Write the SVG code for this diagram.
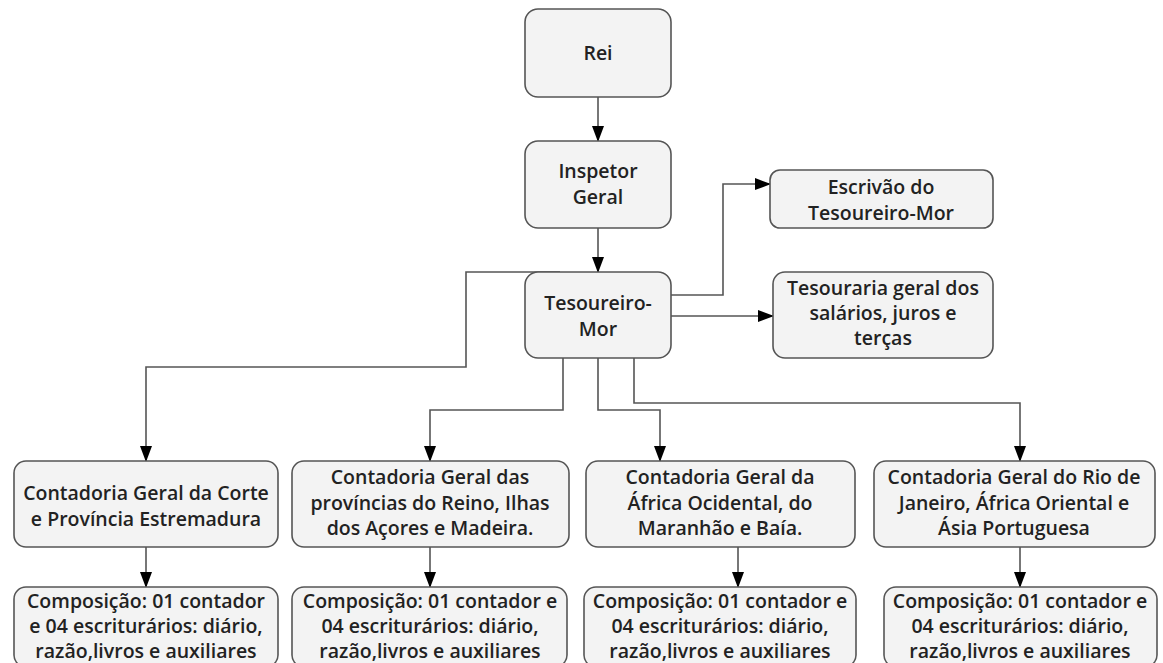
<svg xmlns="http://www.w3.org/2000/svg" width="1163" height="663" viewBox="0 0 1163 663">
<style>
.n rect{fill:#f3f3f3;stroke:#555;stroke-width:1.6}
.n text{font-family:"Open Sans","Noto Sans",sans-serif;font-weight:600;font-size:19.5px;fill:#222;text-anchor:middle}
.c path{fill:none;stroke:#555;stroke-width:1.6}
</style>
<defs>
<marker id="ah" markerWidth="16" markerHeight="12" refX="15" refY="6" orient="auto" markerUnits="userSpaceOnUse" viewBox="0 0 16 12">
<path d="M0,0 L16,6 L0,12 z" fill="#000"/>
</marker>
</defs>
<rect width="1163" height="663" fill="#fff"/>
<g class="c">
<path d="M598,97 V141" marker-end="url(#ah)"/>
<path d="M598,228 V272" marker-end="url(#ah)"/>
<path d="M671,295 H723 V184 H770" marker-end="url(#ah)"/>
<path d="M671,316 H773" marker-end="url(#ah)"/>
<path d="M560,272 H466 V367 H146 V461" marker-end="url(#ah)"/>
<path d="M563,358 V410 H430 V461" marker-end="url(#ah)"/>
<path d="M598,358 V410 H660 V461" marker-end="url(#ah)"/>
<path d="M634,358 V403 H1020 V461" marker-end="url(#ah)"/>
<path d="M146,547 V587" marker-end="url(#ah)"/>
<path d="M430,547 V587" marker-end="url(#ah)"/>
<path d="M738,547 V587" marker-end="url(#ah)"/>
<path d="M1020,547 V587" marker-end="url(#ah)"/>
</g>
<g id="rei" class="n"><rect x="525" y="9" width="146" height="88" rx="13"/><text x="598" y="60">Rei</text></g>
<g id="inspetor" class="n"><rect x="525" y="141" width="146" height="87" rx="13"/><text x="598" y="178">Inspetor</text><text x="598" y="204">Geral</text></g>
<g id="tesoureiro" class="n"><rect x="525" y="272" width="146" height="86" rx="13"/><text x="598" y="310">Tesoureiro-</text><text x="598" y="336">Mor</text></g>
<g id="escrivao" class="n"><rect x="770" y="170" width="223" height="58" rx="10"/><text x="881" y="194">Escrivão do</text><text x="881" y="220">Tesoureiro-Mor</text></g>
<g id="tesouraria" class="n"><rect x="773" y="272" width="220" height="86" rx="12"/><text x="883" y="295">Tesouraria geral dos</text><text x="883" y="320">salários, juros e</text><text x="883" y="345">terças</text></g>
<g id="cont1" class="n"><rect x="14" y="461" width="264" height="86" rx="12"/><text x="146" y="500">Contadoria Geral da Corte</text><text x="146" y="526">e Província Estremadura</text></g>
<g id="cont2" class="n"><rect x="292" y="461" width="277" height="86" rx="12"/><text x="430" y="484">Contadoria Geral das</text><text x="430" y="510">províncias do Reino, Ilhas</text><text x="430" y="535">dos Açores e Madeira.</text></g>
<g id="cont3" class="n"><rect x="586" y="461" width="269" height="86" rx="12"/><text x="720" y="484">Contadoria Geral da</text><text x="720" y="510">África Ocidental, do</text><text x="720" y="535">Maranhão e Baía.</text></g>
<g id="cont4" class="n"><rect x="874" y="461" width="281" height="86" rx="12"/><text x="1014" y="484">Contadoria Geral do Rio de</text><text x="1014" y="510">Janeiro, África Oriental e</text><text x="1014" y="535">Ásia Portuguesa</text></g>
<g id="comp1" class="n"><rect x="14" y="587" width="264" height="80" rx="12"/><text x="146" y="608">Composição: 01 contador</text><text x="146" y="633">e 04 escriturários: diário,</text><text x="146" y="658">razão,livros e auxiliares</text></g>
<g id="comp2" class="n"><rect x="292" y="587" width="275" height="80" rx="12"/><text x="430" y="608">Composição: 01 contador e</text><text x="430" y="633">04 escriturários: diário,</text><text x="430" y="658">razão,livros e auxiliares</text></g>
<g id="comp3" class="n"><rect x="584" y="587" width="272" height="80" rx="12"/><text x="720" y="608">Composição: 01 contador e</text><text x="720" y="633">04 escriturários: diário,</text><text x="720" y="658">razão,livros e auxiliares</text></g>
<g id="comp4" class="n"><rect x="884" y="587" width="273" height="80" rx="12"/><text x="1020" y="608">Composição: 01 contador e</text><text x="1020" y="633">04 escriturários: diário,</text><text x="1020" y="658">razão,livros e auxiliares</text></g>
</svg>
